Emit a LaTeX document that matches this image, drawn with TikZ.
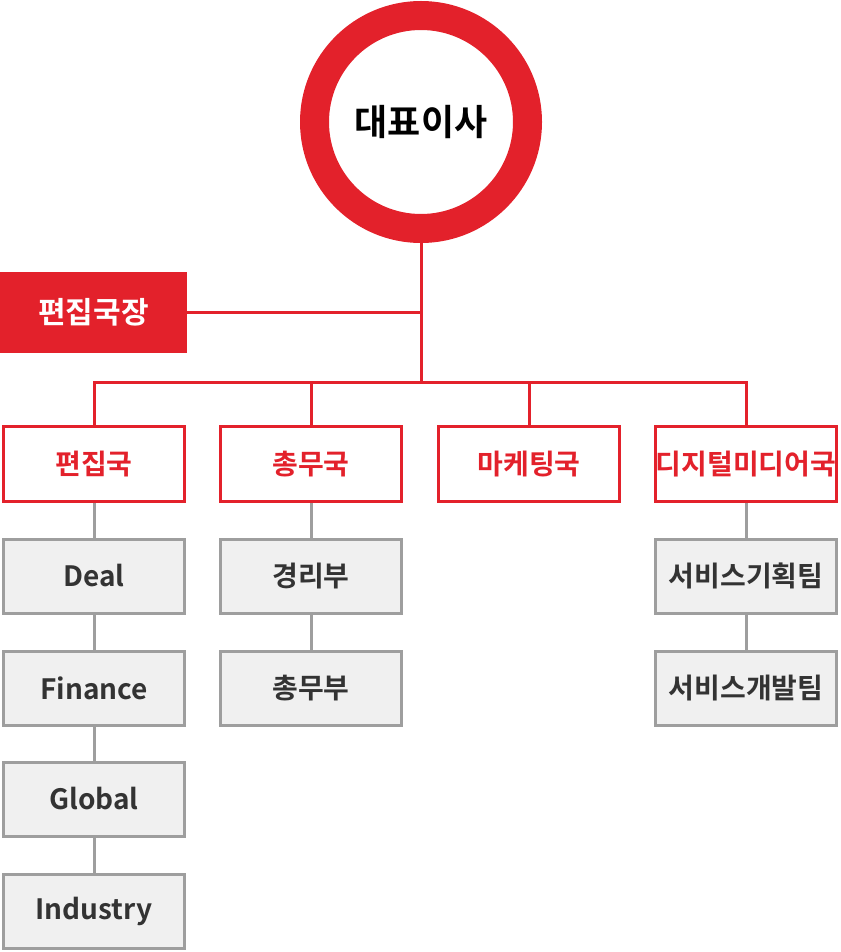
\documentclass[tikz,border=0pt]{standalone}
\usepackage{fontspec}
\setmainfont{Noto Sans CJK KR}[BoldFont={Noto Sans CJK KR Bold}]
\definecolor{rd}{HTML}{E3212B}
\definecolor{gb}{HTML}{9E9E9E}
\definecolor{gf}{HTML}{F0F0F0}
\definecolor{tx}{HTML}{333333}
\begin{document}
\begin{tikzpicture}[x=1pt,y=-1pt,
 redbox/.style={draw=rd,line width=3pt,fill=white,minimum width=181pt,minimum height=75pt,inner sep=0,text=rd,font=\bfseries\fontsize{28}{32}\selectfont},
 graybox/.style={draw=gb,line width=3pt,fill=gf,minimum width=181pt,minimum height=74pt,inner sep=0,text=tx,font=\bfseries\fontsize{28}{32}\selectfont},
 redline/.style={draw=rd,line width=3pt},
 grayline/.style={draw=gb,line width=3pt}]
\useasboundingbox (0,0) rectangle (840,952);
\node (ceo) [circle,draw=rd,line width=29pt,fill=white,minimum size=213pt,inner sep=0,font=\bfseries\fontsize{36}{40}\selectfont,text=black] at (421,122) {대표이사};
\node (chief) [fill=rd,minimum width=187pt,minimum height=81pt,inner sep=0,text=white,font=\bfseries\fontsize{30}{34}\selectfont] at (93.5,312) {편집국장};
\coordinate (j1) at (421,312);
\coordinate (j2) at (421,382);
\node (d1) [redbox] at (94,464) {편집국};
\node (d2) [redbox] at (311,464) {총무국};
\node (d3) [redbox] at (529,464) {마케팅국};
\node (d4) [redbox] at (746,464) {디지털미디어국};
\draw[redline] (ceo.south) -- (j2);
\draw[redline] (chief.east) -- (j1);
\draw[redline] (d1.north) |- (j2);
\draw[redline] (d4.north) |- (j2);
\draw[redline] (d2.north) -- (d2.north |- j2);
\draw[redline] (d3.north) -- (d3.north |- j2);
\node (g1) [graybox] at (94,576) {Deal};
\node (g2) [graybox] at (94,688) {Finance};
\node (g3) [graybox] at (94,799) {Global};
\node (g4) [graybox] at (94,911) {Industry};
\node (a1) [graybox] at (311,576) {경리부};
\node (a2) [graybox] at (311,688) {총무부};
\node (s1) [graybox] at (746,576) {서비스기획팀};
\node (s2) [graybox] at (746,688) {서비스개발팀};
\draw[grayline] (d1) -- (g1) (g1) -- (g2) (g2) -- (g3) (g3) -- (g4);
\draw[grayline] (d2) -- (a1) (a1) -- (a2);
\draw[grayline] (d4) -- (s1) (s1) -- (s2);
\end{tikzpicture}
\end{document}
